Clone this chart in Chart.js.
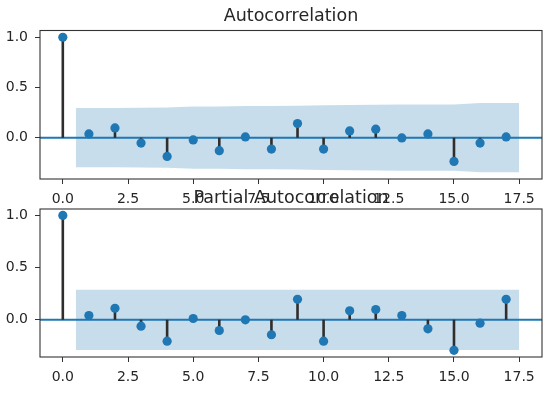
<!DOCTYPE html>
<html>
<head>
<meta charset="utf-8">
<script src="https://cdn.jsdelivr.net/npm/chart.js@4.4.0/dist/chart.umd.min.js"></script>
<style>
  body { margin: 0; background: #fff; }
  #wrap { position: relative; width: 560px; height: 395px; }
  canvas { position: absolute; left: 0; }
  #acf-chart { top: 0; }
  #pacf-chart { top: 180px; }
</style>
</head>
<body>
<div id="wrap">
  <canvas id="acf-chart" width="560" height="210"></canvas>
  <canvas id="pacf-chart" width="560" height="215"></canvas>
</div>
<script>
// lags 0..17
var lags = [0, 1, 2, 3, 4, 5, 6, 7, 8, 9, 10, 11, 12, 13, 14, 15, 16, 17];

// values
var acfValues = [1.0, 0.037, 0.097, -0.054, -0.187, -0.023, -0.13, 0.007, -0.114,
                 0.14, -0.114, 0.067, 0.084, -0.003, 0.037, -0.237, -0.054, 0.007];
var pacfValues = [1.0, 0.041, 0.111, -0.061, -0.204, 0.013, -0.102, 0.0, -0.143,
                  0.197, -0.204, 0.086, 0.099, 0.041, -0.086, -0.292, -0.032, 0.197];

// confidence band half widths for lags 1..17
var acfBand = [0.295, 0.295, 0.298, 0.299, 0.309, 0.309, 0.314, 0.314, 0.317,
               0.323, 0.326, 0.327, 0.329, 0.329, 0.330, 0.344, 0.345];
var pacfBand = [0.288, 0.288, 0.288, 0.288, 0.288, 0.288, 0.288, 0.288, 0.288,
                0.288, 0.288, 0.288, 0.288, 0.288, 0.288, 0.288, 0.288];

var xTickLabels = [0, 2.5, 5, 7.5, 10, 12.5, 15, 17.5];
var yTickLabels = [0, 0.5, 1.0];

var blue = '#1f77b4';
var textColor = '#262626';
var fontFamily = "'DejaVu Sans', sans-serif";

// zero line, frame and title centred over the plot area (like matplotlib)
var framePlugin = {
    id: 'frame',
    afterDatasetDraw: function(chart, args) {
        if (args.index !== 1) return;   // right after the band
        var ctx = chart.ctx, a = chart.chartArea;
        var y0 = chart.scales.y.getPixelForValue(0);
        ctx.save();
        ctx.strokeStyle = blue;
        ctx.lineWidth = 2;
        ctx.beginPath();
        ctx.moveTo(a.left, y0);
        ctx.lineTo(a.right, y0);
        ctx.stroke();
        ctx.restore();
    },
    afterDraw: function(chart, args, opts) {
        var ctx = chart.ctx, a = chart.chartArea;
        ctx.save();
        ctx.strokeStyle = '#333';
        ctx.lineWidth = 1.1;
        ctx.strokeRect(a.left, a.top, a.right - a.left, a.bottom - a.top);
        ctx.fillStyle = textColor;
        ctx.font = '17.5px ' + fontFamily;
        ctx.textAlign = 'center';
        ctx.textBaseline = 'alphabetic';
        ctx.fillText(opts.text, (a.left + a.right) / 2, opts.baseline);
        ctx.restore();
    }
};

function makeChart(id, title, values, band, yMin, yMax, topPad, xAxisHeight, titleBaseline) {
    var bandX = lags.slice(1);
    bandX[0] -= 0.5;
    bandX[bandX.length - 1] += 0.5;

    var upper = bandX.map(function(x, i) { return { x: x, y: band[i] }; });
    var lower = bandX.map(function(x, i) { return { x: x, y: -band[i] }; });

    var stems = [];
    lags.forEach(function(k, i) {
        stems.push({ x: k, y: 0 });
        stems.push({ x: k, y: values[i] });
        stems.push({ x: k, y: null });
    });

    var points = lags.map(function(k, i) { return { x: k, y: values[i] }; });

    return new Chart(document.getElementById(id).getContext('2d'), {
        type: 'scatter',
        data: {
            datasets: [
                {
                    label: 'upper', data: upper, showLine: true, pointRadius: 0,
                    borderWidth: 0, borderColor: 'rgba(0,0,0,0)', fill: false, order: 5
                },
                {
                    label: 'lower', data: lower, showLine: true, pointRadius: 0,
                    borderWidth: 0, borderColor: 'rgba(0,0,0,0)',
                    fill: '-1', backgroundColor: 'rgba(31,119,180,0.25)', order: 4
                },
                {
                    label: 'stems', data: stems, showLine: true, spanGaps: false,
                    pointRadius: 0, borderColor: '#2e2e2e', borderWidth: 2.6, order: 3
                },
                {
                    label: 'values', data: points, pointRadius: 4.6,
                    pointBackgroundColor: blue, pointBorderWidth: 0, order: 1
                }
            ]
        },
        options: {
            responsive: false,
            animation: false,
            devicePixelRatio: 1,
            layout: { padding: { left: 0, right: 18, top: topPad, bottom: 0 } },
            plugins: {
                legend: { display: false },
                tooltip: { enabled: false },
                title: { display: false },
                frame: { text: title, baseline: titleBaseline }
            },
            scales: {
                x: {
                    type: 'linear', min: -0.875, max: 18.375,
                    border: { display: false },
                    grid: { drawOnChartArea: false, drawTicks: true, tickLength: 5, color: '#333' },
                    ticks: {
                        color: textColor, padding: 7,
                        font: { family: fontFamily, size: 14 },
                        callback: function(v) { return v.toFixed(1); }
                    },
                    afterBuildTicks: function(scale) {
                        scale.ticks = xTickLabels.map(function(v) { return { value: v }; });
                    },
                    afterFit: function(scale) { scale.height = xAxisHeight; }
                },
                y: {
                    type: 'linear', min: yMin, max: yMax,
                    border: { display: false },
                    grid: { drawOnChartArea: false, drawTicks: true, tickLength: 5, color: '#333' },
                    ticks: {
                        color: textColor, padding: 7,
                        font: { family: fontFamily, size: 14 },
                        callback: function(v) { return v.toFixed(1); }
                    },
                    afterBuildTicks: function(scale) {
                        scale.ticks = yTickLabels.map(function(v) { return { value: v }; });
                    },
                    afterFit: function(scale) { scale.width = 40; }
                }
            }
        },
        plugins: [framePlugin]
    });
}

var acfChart = makeChart('acf-chart', 'Autocorrelation', acfValues, acfBand,
    -0.412, 1.067, 30.5, 31, 20.7);
var pacfChart = makeChart('pacf-chart', 'Partial Autocorrelation', pacfValues, pacfBand,
    -0.356, 1.062, 29, 38, 22.7);
</script>
</body>
</html>
